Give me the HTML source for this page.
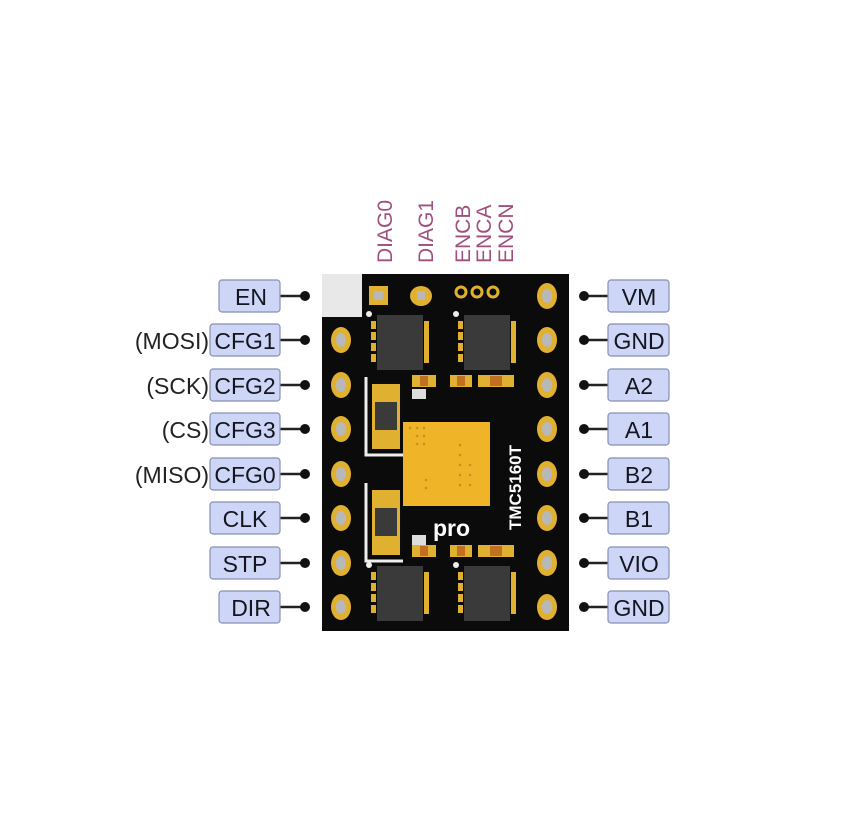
<!DOCTYPE html>
<html><head><style>
html,body{margin:0;padding:0;background:#fff;width:866px;height:839px;overflow:hidden}
</style></head><body>
<svg width="866" height="839" xmlns="http://www.w3.org/2000/svg" font-family="Liberation Sans, sans-serif">
<rect width="866" height="839" fill="#fff"/>
<rect x="322" y="274" width="247" height="357" fill="#0b0b0b"/>
<rect x="322" y="274" width="40" height="43" fill="#e8e8e8"/>
<rect x="369" y="286" width="19" height="19" fill="#e0b030"/><rect x="374" y="291" width="9" height="9" fill="#b8b8b8"/>
<ellipse cx="421" cy="296" rx="11" ry="10" fill="#e0b030"/><rect x="417" y="291" width="8" height="9" fill="#b8b8b8"/>
<g fill="none" stroke="#e0b030" stroke-width="3"><circle cx="461" cy="292" r="5"/><circle cx="477" cy="292" r="5"/><circle cx="493" cy="292" r="5"/></g>
<ellipse cx="547" cy="296" rx="10" ry="13" fill="#e0b030"/><ellipse cx="547" cy="296" rx="5" ry="7" fill="#b8b8b8"/>
<g id="pins">
<ellipse cx="341" cy="340" rx="10" ry="13" fill="#e0b030"/><ellipse cx="341" cy="340" rx="5" ry="7" fill="#b8b8b8"/>
<ellipse cx="341" cy="385" rx="10" ry="13" fill="#e0b030"/><ellipse cx="341" cy="385" rx="5" ry="7" fill="#b8b8b8"/>
<ellipse cx="341" cy="429" rx="10" ry="13" fill="#e0b030"/><ellipse cx="341" cy="429" rx="5" ry="7" fill="#b8b8b8"/>
<ellipse cx="341" cy="474" rx="10" ry="13" fill="#e0b030"/><ellipse cx="341" cy="474" rx="5" ry="7" fill="#b8b8b8"/>
<ellipse cx="341" cy="518" rx="10" ry="13" fill="#e0b030"/><ellipse cx="341" cy="518" rx="5" ry="7" fill="#b8b8b8"/>
<ellipse cx="341" cy="563" rx="10" ry="13" fill="#e0b030"/><ellipse cx="341" cy="563" rx="5" ry="7" fill="#b8b8b8"/>
<ellipse cx="341" cy="607" rx="10" ry="13" fill="#e0b030"/><ellipse cx="341" cy="607" rx="5" ry="7" fill="#b8b8b8"/>
</g>
<use href="#pins" x="206"/>
<g id="chip">
<rect x="377" y="315" width="46" height="55" fill="#3a3a3a"/>
<g fill="#e0b030"><rect x="371" y="321" width="5" height="8"/><rect x="371" y="332" width="5" height="8"/><rect x="371" y="343" width="5" height="8"/><rect x="371" y="354" width="5" height="8"/>
<rect x="424" y="321" width="5" height="42"/></g>
<circle cx="369" cy="314" r="3" fill="#eee"/>
</g>
<use href="#chip" x="87"/>
<use href="#chip" y="251"/>
<use href="#chip" x="87" y="251"/>
<g id="res">
<path d="M366 377 V455 H403" fill="none" stroke="#eee" stroke-width="3"/>
<rect x="372" y="384" width="28" height="65" fill="#e0b030"/>
<rect x="375" y="402" width="22" height="28" fill="#3a3a3a"/>
</g>
<use href="#res" y="106"/>
<g fill="#e0b030">
<rect x="412" y="375" width="24" height="12"/><rect x="450" y="375" width="22" height="12"/><rect x="478" y="375" width="36" height="12"/>
<rect x="412" y="545" width="24" height="12"/><rect x="450" y="545" width="22" height="12"/><rect x="478" y="545" width="36" height="12"/>
</g>
<g fill="#c07020"><rect x="420" y="376" width="8" height="10"/><rect x="457" y="376" width="8" height="10"/><rect x="490" y="376" width="12" height="10"/>
<rect x="420" y="546" width="8" height="10"/><rect x="457" y="546" width="8" height="10"/><rect x="490" y="546" width="12" height="10"/></g>
<rect x="412" y="389" width="14" height="10" fill="#ddd"/><rect x="412" y="535" width="14" height="10" fill="#ddd"/>
<rect x="403" y="422" width="87" height="84" fill="#f0b428"/>
<g fill="#c89020">
<circle cx="410" cy="428" r="1.3"/><circle cx="417" cy="428" r="1.3"/><circle cx="424" cy="428" r="1.3"/>
<circle cx="417" cy="436" r="1.3"/><circle cx="424" cy="436" r="1.3"/><circle cx="417" cy="444" r="1.3"/><circle cx="424" cy="444" r="1.3"/>
<circle cx="426" cy="480" r="1.3"/><circle cx="426" cy="488" r="1.3"/><circle cx="460" cy="445" r="1.3"/><circle cx="460" cy="455" r="1.3"/>
<circle cx="460" cy="465" r="1.3"/><circle cx="470" cy="465" r="1.3"/><circle cx="460" cy="475" r="1.3"/><circle cx="470" cy="475" r="1.3"/><circle cx="460" cy="485" r="1.3"/><circle cx="470" cy="485" r="1.3"/>
</g>
<text x="433" y="536" fill="#fff" font-size="23" font-weight="bold">pro</text>
<text transform="translate(521,530) rotate(-90)" fill="#fff" font-size="17" font-weight="bold">TMC5160T</text>
<g fill="#a0507e" font-size="21">
<text transform="translate(392,263) rotate(-90)">DIAG0</text>
<text transform="translate(433,263) rotate(-90)">DIAG1</text>
<text transform="translate(470,263) rotate(-90)">ENCB</text>
<text transform="translate(491,263) rotate(-90)">ENCA</text>
<text transform="translate(513,263) rotate(-90)">ENCN</text>
</g>
<g stroke="#222" stroke-width="2.5"><line x1="280" y1="296" x2="305" y2="296"/><line x1="280" y1="340" x2="305" y2="340"/><line x1="280" y1="385" x2="305" y2="385"/><line x1="280" y1="429" x2="305" y2="429"/><line x1="280" y1="474" x2="305" y2="474"/><line x1="280" y1="518" x2="305" y2="518"/><line x1="280" y1="563" x2="305" y2="563"/><line x1="280" y1="607" x2="305" y2="607"/>
<line x1="584" y1="296" x2="608" y2="296"/><line x1="584" y1="340" x2="608" y2="340"/><line x1="584" y1="385" x2="608" y2="385"/><line x1="584" y1="429" x2="608" y2="429"/><line x1="584" y1="474" x2="608" y2="474"/><line x1="584" y1="518" x2="608" y2="518"/><line x1="584" y1="563" x2="608" y2="563"/><line x1="584" y1="607" x2="608" y2="607"/></g>
<g fill="#111"><circle cx="305" cy="296" r="5"/><circle cx="305" cy="340" r="5"/><circle cx="305" cy="385" r="5"/><circle cx="305" cy="429" r="5"/><circle cx="305" cy="474" r="5"/><circle cx="305" cy="518" r="5"/><circle cx="305" cy="563" r="5"/><circle cx="305" cy="607" r="5"/>
<circle cx="584" cy="296" r="5"/><circle cx="584" cy="340" r="5"/><circle cx="584" cy="385" r="5"/><circle cx="584" cy="429" r="5"/><circle cx="584" cy="474" r="5"/><circle cx="584" cy="518" r="5"/><circle cx="584" cy="563" r="5"/><circle cx="584" cy="607" r="5"/></g>
<g fill="#cdd6f6" stroke="#8790b0" stroke-width="1.2">
<rect x="219" y="280" width="61" height="32" rx="3"/><rect x="210" y="324" width="70" height="32" rx="3"/><rect x="210" y="369" width="70" height="32" rx="3"/><rect x="210" y="413" width="70" height="32" rx="3"/><rect x="210" y="458" width="70" height="32" rx="3"/><rect x="210" y="502" width="70" height="32" rx="3"/><rect x="210" y="547" width="70" height="32" rx="3"/><rect x="219" y="591" width="61" height="32" rx="3"/>
<rect x="608" y="280" width="61" height="32" rx="3"/><rect x="608" y="324" width="61" height="32" rx="3"/><rect x="608" y="369" width="61" height="32" rx="3"/><rect x="608" y="413" width="61" height="32" rx="3"/><rect x="608" y="458" width="61" height="32" rx="3"/><rect x="608" y="502" width="61" height="32" rx="3"/><rect x="608" y="547" width="61" height="32" rx="3"/><rect x="608" y="591" width="61" height="32" rx="3"/>
</g>
<g fill="#151520" font-size="23" text-anchor="middle">
<text x="251" y="305">EN</text><text x="245" y="349">CFG1</text><text x="245" y="394">CFG2</text><text x="245" y="438">CFG3</text><text x="245" y="483">CFG0</text><text x="245" y="527">CLK</text><text x="245" y="572">STP</text><text x="251" y="616">DIR</text>
<text x="639" y="305">VM</text><text x="639" y="349">GND</text><text x="639" y="394">A2</text><text x="639" y="438">A1</text><text x="639" y="483">B2</text><text x="639" y="527">B1</text><text x="639" y="572">VIO</text><text x="639" y="616">GND</text>
</g>
<g fill="#222" font-size="23" text-anchor="end">
<text x="209" y="349">(MOSI)</text><text x="209" y="394">(SCK)</text><text x="209" y="438">(CS)</text><text x="209" y="483">(MISO)</text>
</g>
</svg>
</body></html>
